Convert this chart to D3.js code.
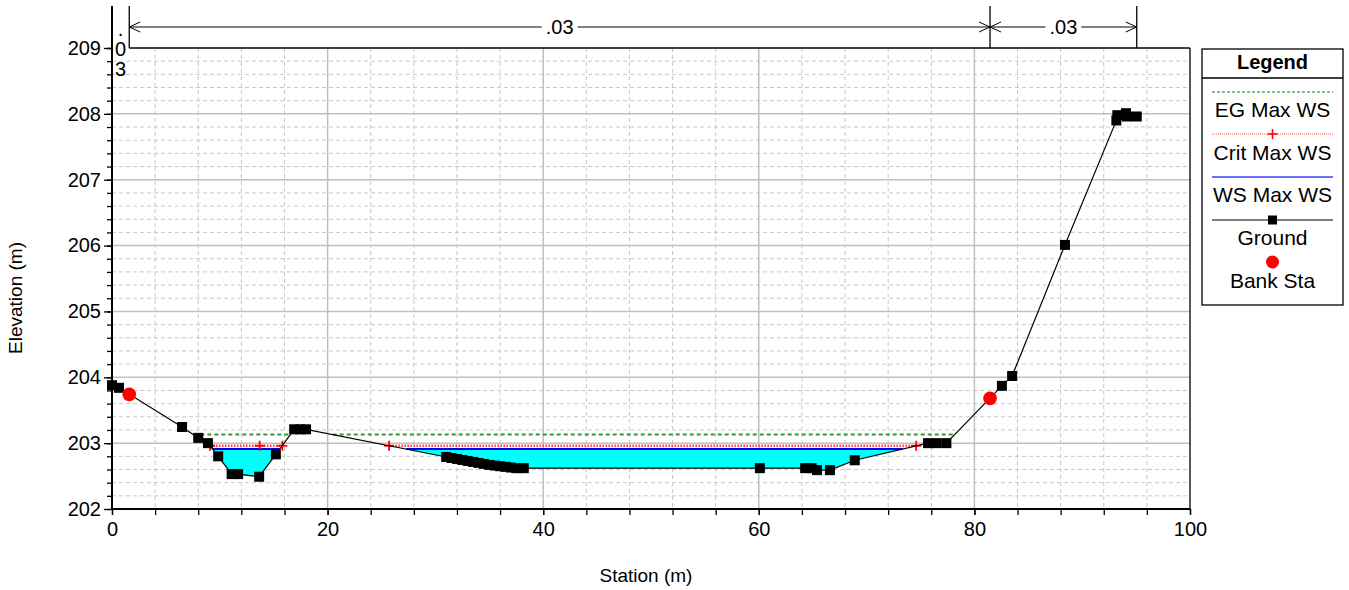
<!DOCTYPE html>
<html>
<head>
<meta charset="utf-8">
<script src="https://cdn.jsdelivr.net/npm/d3@7"></script>
<style>
  html, body { margin: 0; padding: 0; background: #ffffff; }
  svg { display: block; font-family: "Liberation Sans", Arial, sans-serif; }
</style>
</head>
<body>
<svg id="chart" width="1349" height="590"></svg>
<script>
// ---------------- data ----------------
const groundStation = [0, 0.65, 6.5, 8.0, 8.9, 9.85, 11.1, 11.7, 13.65, 15.2, 16.9, 17.45, 18.0,
  31.0, 31.5, 32.0, 32.5, 33.0, 33.5, 34.0, 34.5, 35.0, 35.5, 36.0, 36.5, 37.0, 37.5, 38.2,
  60.1, 64.3, 64.9, 65.4, 66.6, 68.9, 75.7, 76.5, 77.4, 82.55, 83.5, 88.4,
  93.17, 93.26, 94.06, 94.16, 95.06];
const groundElev = [203.88, 203.84, 203.245, 203.08, 203.0, 202.80, 202.53, 202.53, 202.49, 202.83, 203.21, 203.21, 203.21,
  202.79, 202.775, 202.76, 202.745, 202.73, 202.715, 202.70, 202.685, 202.67, 202.66, 202.65, 202.64, 202.63, 202.62, 202.62,
  202.62, 202.62, 202.62, 202.59, 202.59, 202.74, 203.0, 203.0, 203.0, 203.87, 204.02, 206.01,
  207.90, 207.98, 208.01, 207.96, 207.96];
const bankStation = [1.6, 81.45];
const bankElev = [203.74, 203.68];
const egElev = 203.13;      // EG Max WS
const critElev = 202.96;    // Crit Max WS
const wsElev = 202.91;      // WS Max WS
const critMarkStation = [9.1, 13.7, 15.8, 25.7, 74.6];
const nBounds = [0, 1.6, 81.45, 95.06];
const nValues = [".03", ".03", ".03"];
const xTicksMajor = [0, 20, 40, 60, 80, 100];
const yTicksMajor = [202, 203, 204, 205, 206, 207, 208, 209];
const legendItems = ["EG Max WS", "Crit Max WS", "WS Max WS", "Ground", "Bank Sta"];

// ---------------- setup ----------------
const svg = d3.select("#chart");
const L = 112, R = 1190, T = 48, B = 509;
const x = d3.scaleLinear().domain([0, 100]).range([L, R]);
const y = d3.scaleLinear().domain([202, 209]).range([B, T]);
const ground = groundStation.map((s, i) => ({ s, e: groundElev[i] }));

// grid
const gGrid = svg.append("g");
const xMinor = d3.range(0, 101, 4);
const yMinor = d3.range(0, 36).map(i => 202 + i * 0.2);
gGrid.selectAll(".vminor").data(xMinor.filter(v => v % 20 !== 0)).join("line")
  .attr("x1", d => x(d)).attr("x2", d => x(d)).attr("y1", T).attr("y2", B)
  .attr("stroke", "#c8c8c8").attr("stroke-width", 1).attr("stroke-dasharray", "4,3");
gGrid.selectAll(".hminor").data(yMinor.filter(v => Math.abs(v - Math.round(v)) > 0.01)).join("line")
  .attr("x1", L).attr("x2", R).attr("y1", d => y(d)).attr("y2", d => y(d))
  .attr("stroke", "#c8c8c8").attr("stroke-width", 1).attr("stroke-dasharray", "4,3");
gGrid.selectAll(".vmajor").data(xTicksMajor.filter(v => v > 0 && v < 100)).join("line")
  .attr("x1", d => x(d)).attr("x2", d => x(d)).attr("y1", T).attr("y2", B)
  .attr("stroke", "#c0c0c0").attr("stroke-width", 1.5);
gGrid.selectAll(".hmajor").data(yTicksMajor.filter(v => v > 202 && v < 209)).join("line")
  .attr("x1", L).attr("x2", R).attr("y1", d => y(d)).attr("y2", d => y(d))
  .attr("stroke", "#c0c0c0").attr("stroke-width", 1.5);

// wet runs of a level over the ground
function wetRuns(level) {
  const runs = []; let cur = null;
  for (let i = 0; i < ground.length; i++) {
    const p = ground[i];
    if (i > 0) {
      const q = ground[i - 1];
      if ((q.e < level) !== (p.e < level)) {
        const t = (level - q.e) / (p.e - q.e);
        const s = q.s + t * (p.s - q.s);
        if (!cur) { cur = [{ s, e: level }]; }
        else { cur.push({ s, e: level }); runs.push(cur); cur = null; }
      }
    }
    if (p.e < level) { if (!cur) cur = []; cur.push(p); }
  }
  if (cur) runs.push(cur);
  return runs;
}
const line = d3.line().x(d => x(d.s)).y(d => y(d.e));

// water fill
const wsRuns = wetRuns(wsElev);
svg.append("g").selectAll("path").data(wsRuns).join("path")
  .attr("d", d => line(d) + "Z").attr("fill", "#00ffff").attr("stroke", "none");

// EG line
svg.append("g").selectAll("line").data(wetRuns(egElev)).join("line")
  .attr("x1", d => x(d[0].s)).attr("x2", d => x(d[d.length - 1].s))
  .attr("y1", y(egElev)).attr("y2", y(egElev))
  .attr("stroke", "#2f9a2f").attr("stroke-width", 2).attr("stroke-dasharray", "4,3");
// Crit line
svg.append("g").selectAll("line").data(wetRuns(critElev)).join("line")
  .attr("x1", d => x(d[0].s)).attr("x2", d => x(d[d.length - 1].s))
  .attr("y1", y(critElev)).attr("y2", y(critElev))
  .attr("stroke", "#ff4040").attr("stroke-width", 2.5).attr("stroke-dasharray", "1.5,1.5");
// WS line
svg.append("g").selectAll("line").data(wsRuns).join("line")
  .attr("x1", d => x(d[0].s)).attr("x2", d => x(d[d.length - 1].s))
  .attr("y1", y(wsElev)).attr("y2", y(wsElev))
  .attr("stroke", "#0000ee").attr("stroke-width", 2);
// crit markers
function drawPlus(g, cx, cy, h, w) {
  g.append("line").attr("x1", cx - h).attr("x2", cx + h).attr("y1", cy).attr("y2", cy).attr("stroke", "#ff0000").attr("stroke-width", w);
  g.append("line").attr("x1", cx).attr("x2", cx).attr("y1", cy - h).attr("y2", cy + h).attr("stroke", "#ff0000").attr("stroke-width", w);
}
const gCrit = svg.append("g");
critMarkStation.forEach(s => drawPlus(gCrit, x(s), y(critElev), 5, 1.8));

// ground line
svg.append("path").datum(ground).attr("d", line).attr("fill", "none").attr("stroke", "#000").attr("stroke-width", 1.2);
svg.append("g").selectAll("rect").data(ground).join("rect")
  .attr("x", d => x(d.s) - 5).attr("y", d => y(d.e) - 5).attr("width", 10).attr("height", 10).attr("fill", "#000");
// bank stations
svg.append("g").selectAll("circle").data(bankStation).join("circle")
  .attr("cx", d => x(d)).attr("cy", (d, i) => y(bankElev[i])).attr("r", 6.8).attr("fill", "#ff0000");

// axes
const fontSize = "19px";
const tickFont = "20px";
const axL = svg.append("g").attr("transform", `translate(${L},0)`)
  .call(d3.axisLeft(y).tickValues(yMinor.concat([209])).tickSize(5).tickFormat(""));
axL.select(".domain").remove();
axL.selectAll("line").attr("stroke", "#000").attr("stroke-width", 1.3);
const axL2 = svg.append("g").attr("transform", `translate(${L},0)`)
  .call(d3.axisLeft(y).tickValues(yTicksMajor).tickSize(8).tickPadding(3).tickFormat(d3.format("d")));
axL2.select(".domain").remove();
axL2.selectAll("line").attr("stroke", "#000").attr("stroke-width", 1.3);
axL2.selectAll("text").attr("font-size", tickFont).attr("fill", "#000").attr("font-family", "Liberation Sans, Arial, sans-serif");

const axB = svg.append("g").attr("transform", `translate(0,${B})`)
  .call(d3.axisBottom(x).tickValues(xMinor).tickSize(6).tickFormat(""));
axB.select(".domain").remove();
axB.selectAll("line").attr("stroke", "#000").attr("stroke-width", 1.3);
const axB2 = svg.append("g").attr("transform", `translate(0,${B})`)
  .call(d3.axisBottom(x).tickValues(xTicksMajor).tickSize(6).tickPadding(7).tickFormat(d3.format("d")));
axB2.select(".domain").remove();
axB2.selectAll("line").attr("stroke", "#000").attr("stroke-width", 1.3);
axB2.selectAll("text").attr("font-size", tickFont).attr("fill", "#000").attr("font-family", "Liberation Sans, Arial, sans-serif");

// frame
svg.append("line").attr("x1", L).attr("x2", L).attr("y1", 6).attr("y2", B + 1).attr("stroke", "#000").attr("stroke-width", 2);
svg.append("line").attr("x1", L - 1).attr("x2", R).attr("y1", B).attr("y2", B).attr("stroke", "#000").attr("stroke-width", 2);
svg.append("line").attr("x1", x(nBounds[1])).attr("x2", R).attr("y1", T).attr("y2", T).attr("stroke", "#000").attr("stroke-width", 1.3);
svg.append("line").attr("x1", R).attr("x2", R).attr("y1", T).attr("y2", B).attr("stroke", "#000").attr("stroke-width", 1.3);

// axis titles
svg.append("text").attr("x", (L + R) / 2 - 5).attr("y", 582).attr("text-anchor", "middle")
  .attr("font-size", fontSize).text("Station (m)");
svg.append("text").attr("transform", "translate(22,298) rotate(-90)").attr("text-anchor", "middle")
  .attr("font-size", fontSize).text("Elevation (m)");

// Manning's n regions
const gN = svg.append("g");
const ay = 27;
nBounds.forEach(b => {
  gN.append("line").attr("x1", x(b)).attr("x2", x(b)).attr("y1", 6).attr("y2", T).attr("stroke", "#000").attr("stroke-width", 1.3);
});
nValues.forEach((v, i) => {
  const x0 = x(nBounds[i]), x1 = x(nBounds[i + 1]);
  const cx = (x0 + x1) / 2;
  if (x1 - x0 > 60) {
    const t = gN.append("text").attr("x", cx).attr("y", ay + 7).attr("text-anchor", "middle").attr("font-size", tickFont).text(v);
    const w = t.node().getComputedTextLength();
    gN.append("line").attr("x1", x0).attr("x2", cx - w / 2 - 4).attr("y1", ay).attr("y2", ay).attr("stroke", "#000");
    gN.append("line").attr("x1", cx + w / 2 + 4).attr("x2", x1).attr("y1", ay).attr("y2", ay).attr("stroke", "#000");
    gN.append("path").attr("d", `M${x0 + 11},${ay - 5}L${x0},${ay}L${x0 + 11},${ay + 5}`).attr("fill", "none").attr("stroke", "#000");
    gN.append("path").attr("d", `M${x1 - 11},${ay - 5}L${x1},${ay}L${x1 - 11},${ay + 5}`).attr("fill", "none").attr("stroke", "#000");
  } else {
    v.split("").forEach((ch, k) => {
      gN.append("text").attr("x", cx).attr("y", 36 + k * 20).attr("text-anchor", "middle").attr("font-size", tickFont).text(ch);
    });
  }
});

// legend
const lg = svg.append("g");
const lx0 = 1202, lx1 = 1343, lcx = (lx0 + lx1) / 2;
lg.append("rect").attr("x", lx0).attr("y", 49).attr("width", lx1 - lx0).attr("height", 256)
  .attr("fill", "#fff").attr("stroke", "#000").attr("stroke-width", 1.3);
lg.append("line").attr("x1", lx0).attr("x2", lx1).attr("y1", 78).attr("y2", 78).attr("stroke", "#000").attr("stroke-width", 1.3);
lg.append("text").attr("x", lcx).attr("y", 69).attr("text-anchor", "middle").attr("font-size", "20px").attr("font-weight", "bold").text("Legend");
const lineY = [92, 134, 177, 220, 262];
const textY = [117, 160, 202, 245, 288];
const sx0 = 1212, sx1 = 1333;
lg.append("line").attr("x1", sx0).attr("x2", sx1).attr("y1", lineY[0]).attr("y2", lineY[0])
  .attr("stroke", "#1a7a1a").attr("stroke-width", 1.2).attr("stroke-dasharray", "3,2");
lg.append("line").attr("x1", sx0).attr("x2", sx1).attr("y1", lineY[1]).attr("y2", lineY[1])
  .attr("stroke", "#ff6060").attr("stroke-width", 1.2).attr("stroke-dasharray", "1,1");
drawPlus(lg, lcx, lineY[1], 5, 1.6);
lg.append("line").attr("x1", sx0).attr("x2", sx1).attr("y1", lineY[2]).attr("y2", lineY[2])
  .attr("stroke", "#3c3cff").attr("stroke-width", 1.6);
lg.append("line").attr("x1", sx0).attr("x2", sx1).attr("y1", lineY[3]).attr("y2", lineY[3])
  .attr("stroke", "#000").attr("stroke-width", 1.2);
lg.append("rect").attr("x", lcx - 4.5).attr("y", lineY[3] - 4.5).attr("width", 9).attr("height", 9).attr("fill", "#000");
lg.append("circle").attr("cx", lcx).attr("cy", lineY[4]).attr("r", 6.5).attr("fill", "#ff0000");
legendItems.forEach((t, i) => {
  lg.append("text").attr("x", lcx).attr("y", textY[i]).attr("text-anchor", "middle").attr("font-size", "21px").text(t);
});
</script>
</body>
</html>
